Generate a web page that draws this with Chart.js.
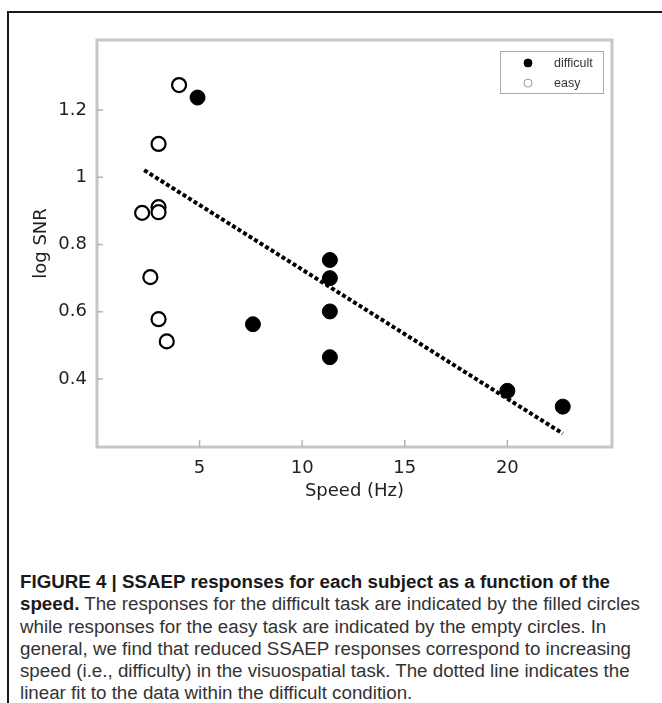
<!DOCTYPE html>
<html>
<head>
<meta charset="utf-8">
<script src="https://cdn.jsdelivr.net/npm/chart.js@4.4.0/dist/chart.umd.min.js"></script>
<style>
html, body { margin: 0; padding: 0; background: #fff; overflow: hidden; }
body { width: 662px; height: 703px; position: relative; }
#frame { position: absolute; left: 7px; top: 11px; width: 700px; height: 720px;
         border-left: 2px solid #1a1a1a; border-top: 2px solid #1a1a1a; }
#plot { position: absolute; left: 0; top: 0; }
#caption { position: absolute; left: 20px; top: 571px; font-family: "Liberation Sans", Arial, sans-serif;
           font-size: 18px; line-height: 22.3px; color: #333; white-space: nowrap; transform-origin: 0 0; }
#caption b { color: #1a1a1a; }
</style>
</head>
<body>
<div id="frame"></div>
<canvas id="plot" width="662" height="520"></canvas>
<div id="caption">
  <div><b>FIGURE 4 | SSAEP responses for each subject as a function of the</b></div>
  <div id="widest"><b>speed.</b> The responses for the difficult task are indicated by the filled circles</div>
  <div>while responses for the easy task are indicated by the empty circles. In</div>
  <div>general, we find that reduced SSAEP responses correspond to increasing</div>
  <div>speed (i.e., difficulty) in the visuospatial task. The dotted line indicates the</div>
  <div>linear fit to the data within the difficult condition.</div>
</div>
<script>
// data
const difficultX = [4.9, 7.6, 11.35, 11.35, 11.35, 11.35, 20.0, 22.7];
const difficultY = [1.237, 0.563, 0.754, 0.70, 0.601, 0.465, 0.365, 0.318];
const easyX = [4.0, 3.0, 2.2, 3.0, 3.0, 2.6, 3.0, 3.4];
const easyY = [1.274, 1.099, 0.894, 0.911, 0.896, 0.703, 0.578, 0.512];
const fitX = [2.3, 22.7];
const fitY = [1.021, 0.238];
const xTicks = [5, 10, 15, 20];
const yTicks = [0.4, 0.6, 0.8, 1, 1.2];
const yTickLabels = ['0.4', '0.6', '0.8', '1', '1.2'];
const seriesNames = ['difficult', 'easy'];

const toPoints = (xs, ys) => xs.map((x, i) => ({ x: x, y: ys[i] }));

// gray box round the axes + inward tick marks
const framePlugin = {
    id: 'frame',
    beforeDatasetsDraw(chart) {
        const { ctx, chartArea: a, scales } = chart;
        ctx.save();
        ctx.strokeStyle = '#c6c6c6';
        ctx.lineWidth = 3;
        ctx.strokeRect(a.left, a.top, a.right - a.left, a.bottom - a.top);
        ctx.strokeStyle = '#b4b4b4';
        ctx.lineWidth = 1.5;
        ctx.beginPath();
        scales.x.ticks.forEach(t => {
            const px = scales.x.getPixelForValue(t.value);
            ctx.moveTo(px, a.bottom); ctx.lineTo(px, a.bottom - 7);
        });
        scales.y.ticks.forEach(t => {
            const py = scales.y.getPixelForValue(t.value);
            ctx.moveTo(a.left, py); ctx.lineTo(a.left + 6, py);
        });
        ctx.stroke();
        ctx.restore();
    }
};

// small boxed legend in the upper right corner
const legendPlugin = {
    id: 'boxLegend',
    afterDraw(chart) {
        const { ctx, chartArea: a } = chart;
        const x0 = a.right - 112, y0 = a.top + 11, w = 103, h = 42;
        ctx.save();
        ctx.fillStyle = '#fff';
        ctx.fillRect(x0, y0, w, h);
        ctx.strokeStyle = '#aaa';
        ctx.lineWidth = 1;
        ctx.strokeRect(x0 + 0.5, y0 + 0.5, w, h);
        chart.data.datasets.filter(d => seriesNames.includes(d.label)).forEach((d, i) => {
            const cy = y0 + 12 + i * 20;
            ctx.beginPath();
            ctx.arc(x0 + 28, cy, 4, 0, 2 * Math.PI);
            ctx.fillStyle = d.backgroundColor;
            ctx.fill();
            ctx.lineWidth = 1;
            ctx.strokeStyle = i ? '#999' : '#000';
            ctx.stroke();
            ctx.fillStyle = '#333';
            ctx.font = '12.5px "Liberation Sans", Arial, sans-serif';
            ctx.textBaseline = 'middle';
            ctx.fillText(d.label, x0 + 54, cy + 1);
        });
        ctx.restore();
    }
};

const tickFont = { family: '"DejaVu Sans", sans-serif', size: 18 };

new Chart(document.getElementById('plot'), {
    type: 'scatter',
    data: {
        datasets: [
            {
                label: seriesNames[0], data: toPoints(difficultX, difficultY),
                backgroundColor: '#000', borderColor: '#000', borderWidth: 1, pointRadius: 7.5
            },
            {
                label: seriesNames[1], data: toPoints(easyX, easyY),
                backgroundColor: '#fff', borderColor: '#000', borderWidth: 2.2, pointRadius: 7
            },
            {
                label: 'fit', type: 'line', data: toPoints(fitX, fitY),
                borderColor: '#000', borderWidth: 4, borderDash: [4, 2.5], pointRadius: 0,
                fill: false, order: -1
            }
        ]
    },
    options: {
        responsive: false,
        animation: false,
        devicePixelRatio: 1,
        layout: { padding: { left: 0, right: 50, top: 40, bottom: 13 } },
        plugins: { legend: { display: false }, tooltip: { enabled: false } },
        scales: {
            x: {
                type: 'linear', min: 0, max: 25.1,
                grid: { display: false }, border: { display: false },
                afterBuildTicks: s => { s.ticks = xTicks.map(v => ({ value: v })); },
                afterFit: s => { s.height = 60; },
                ticks: { font: tickFont, color: '#222', padding: 3, maxRotation: 0 },
                title: { display: true, text: 'Speed (Hz)', font: tickFont, color: '#222', padding: { top: 0, bottom: 5 } }
            },
            y: {
                type: 'linear', min: 0.198, max: 1.408,
                grid: { display: false }, border: { display: false },
                afterBuildTicks: s => { s.ticks = yTicks.map(v => ({ value: v })); },
                afterFit: s => { s.width = 97; },
                ticks: { font: tickFont, color: '#222', padding: 2,
                         callback: v => yTickLabels[yTicks.indexOf(v)] },
                title: { display: true, text: 'log SNR', font: tickFont, color: '#222', padding: { top: 31, bottom: 0 } }
            }
        }
    },
    plugins: [framePlugin, legendPlugin]
});

// squeeze the caption to the condensed width of the original
const cap = document.getElementById('caption');
const widest = document.getElementById('widest');
const range = document.createRange();
range.selectNodeContents(widest);
const natural = range.getBoundingClientRect().width;
cap.style.transform = 'scaleX(' + (620 / natural) + ')';
</script>
</body>
</html>
